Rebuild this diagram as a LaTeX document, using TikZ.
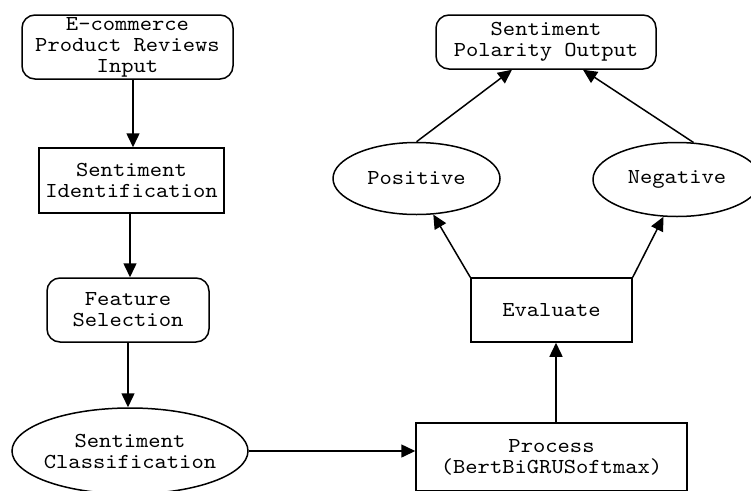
\documentclass[tikz,border=0pt]{standalone}
\usepackage{fontspec}
\setmainfont{lmmono10-regular.otf}[FakeStretch=1.1]
\usetikzlibrary{arrows.meta,shapes.geometric}
\begin{document}
\begin{tikzpicture}[x=1pt,y=-1pt,
  every node/.style={align=center,font=\fontsize{21.3}{21}\selectfont,line width=1.5pt,inner sep=0pt},
  rbox/.style={draw,rounded corners=13pt},
  sbox/.style={draw},
  ell/.style={draw,ellipse,inner xsep=-30pt},
  arr/.style={line width=1.5pt,-{Triangle[width=13pt,length=14pt]}}]
\useasboundingbox (0,0) rectangle (751,490);
\clip (0,0) rectangle (751,490);
\node[rbox,minimum width=211pt,minimum height=64pt] (inp) at (127.5,47) {E-commerce\\Product Reviews\\Input};
\node[sbox,minimum width=185pt,minimum height=65pt] (sid) at (131.5,180.5) {Sentiment\\Identification};
\node[rbox,minimum width=162pt,minimum height=64pt] (fsel) at (128,310) {Feature\\Selection};
\node[ell,minimum width=236pt,minimum height=86pt] (scls) at (130,451) {Sentiment\\Classification};
\node[sbox,minimum width=271pt,minimum height=68pt] (proc) at (551.5,457) {Process\\(BertBiGRUSoftmax)};
\node[sbox,minimum width=161pt,minimum height=64pt] (eval) at (551.5,310) {Evaluate};
\node[ell,minimum width=167pt,minimum height=72pt] (pos) at (416.5,178.5) {Positive};
\node[ell,minimum width=168pt,minimum height=74pt] (neg) at (677,179.5) {Negative};
\node[rbox,minimum width=220pt,minimum height=54pt] (out) at (546,42) {Sentiment\\Polarity Output};
\draw[arr] ([xshift=5.5pt]inp.south) -- ([xshift=1.5pt]sid.north);
\draw[arr] ([xshift=-1.5pt]sid.south) -- ([xshift=2pt]fsel.north);
\draw[arr] (fsel.south) -- (fsel.south |- scls.north);
\draw[arr] (scls.east) -- (proc.west |- scls.east);
\draw[arr] ([xshift=4.5pt]proc.north) -- ([xshift=4.5pt]eval.south);
\draw[arr] (eval.north west) -- (pos.-65);
\draw[arr] (eval.north east) -- (neg.-110);
\draw[arr] (pos.north) -- ([xshift=-34pt]out.south);
\draw[arr] (neg.66) -- ([xshift=37pt]out.south);
\end{tikzpicture}
\end{document}
